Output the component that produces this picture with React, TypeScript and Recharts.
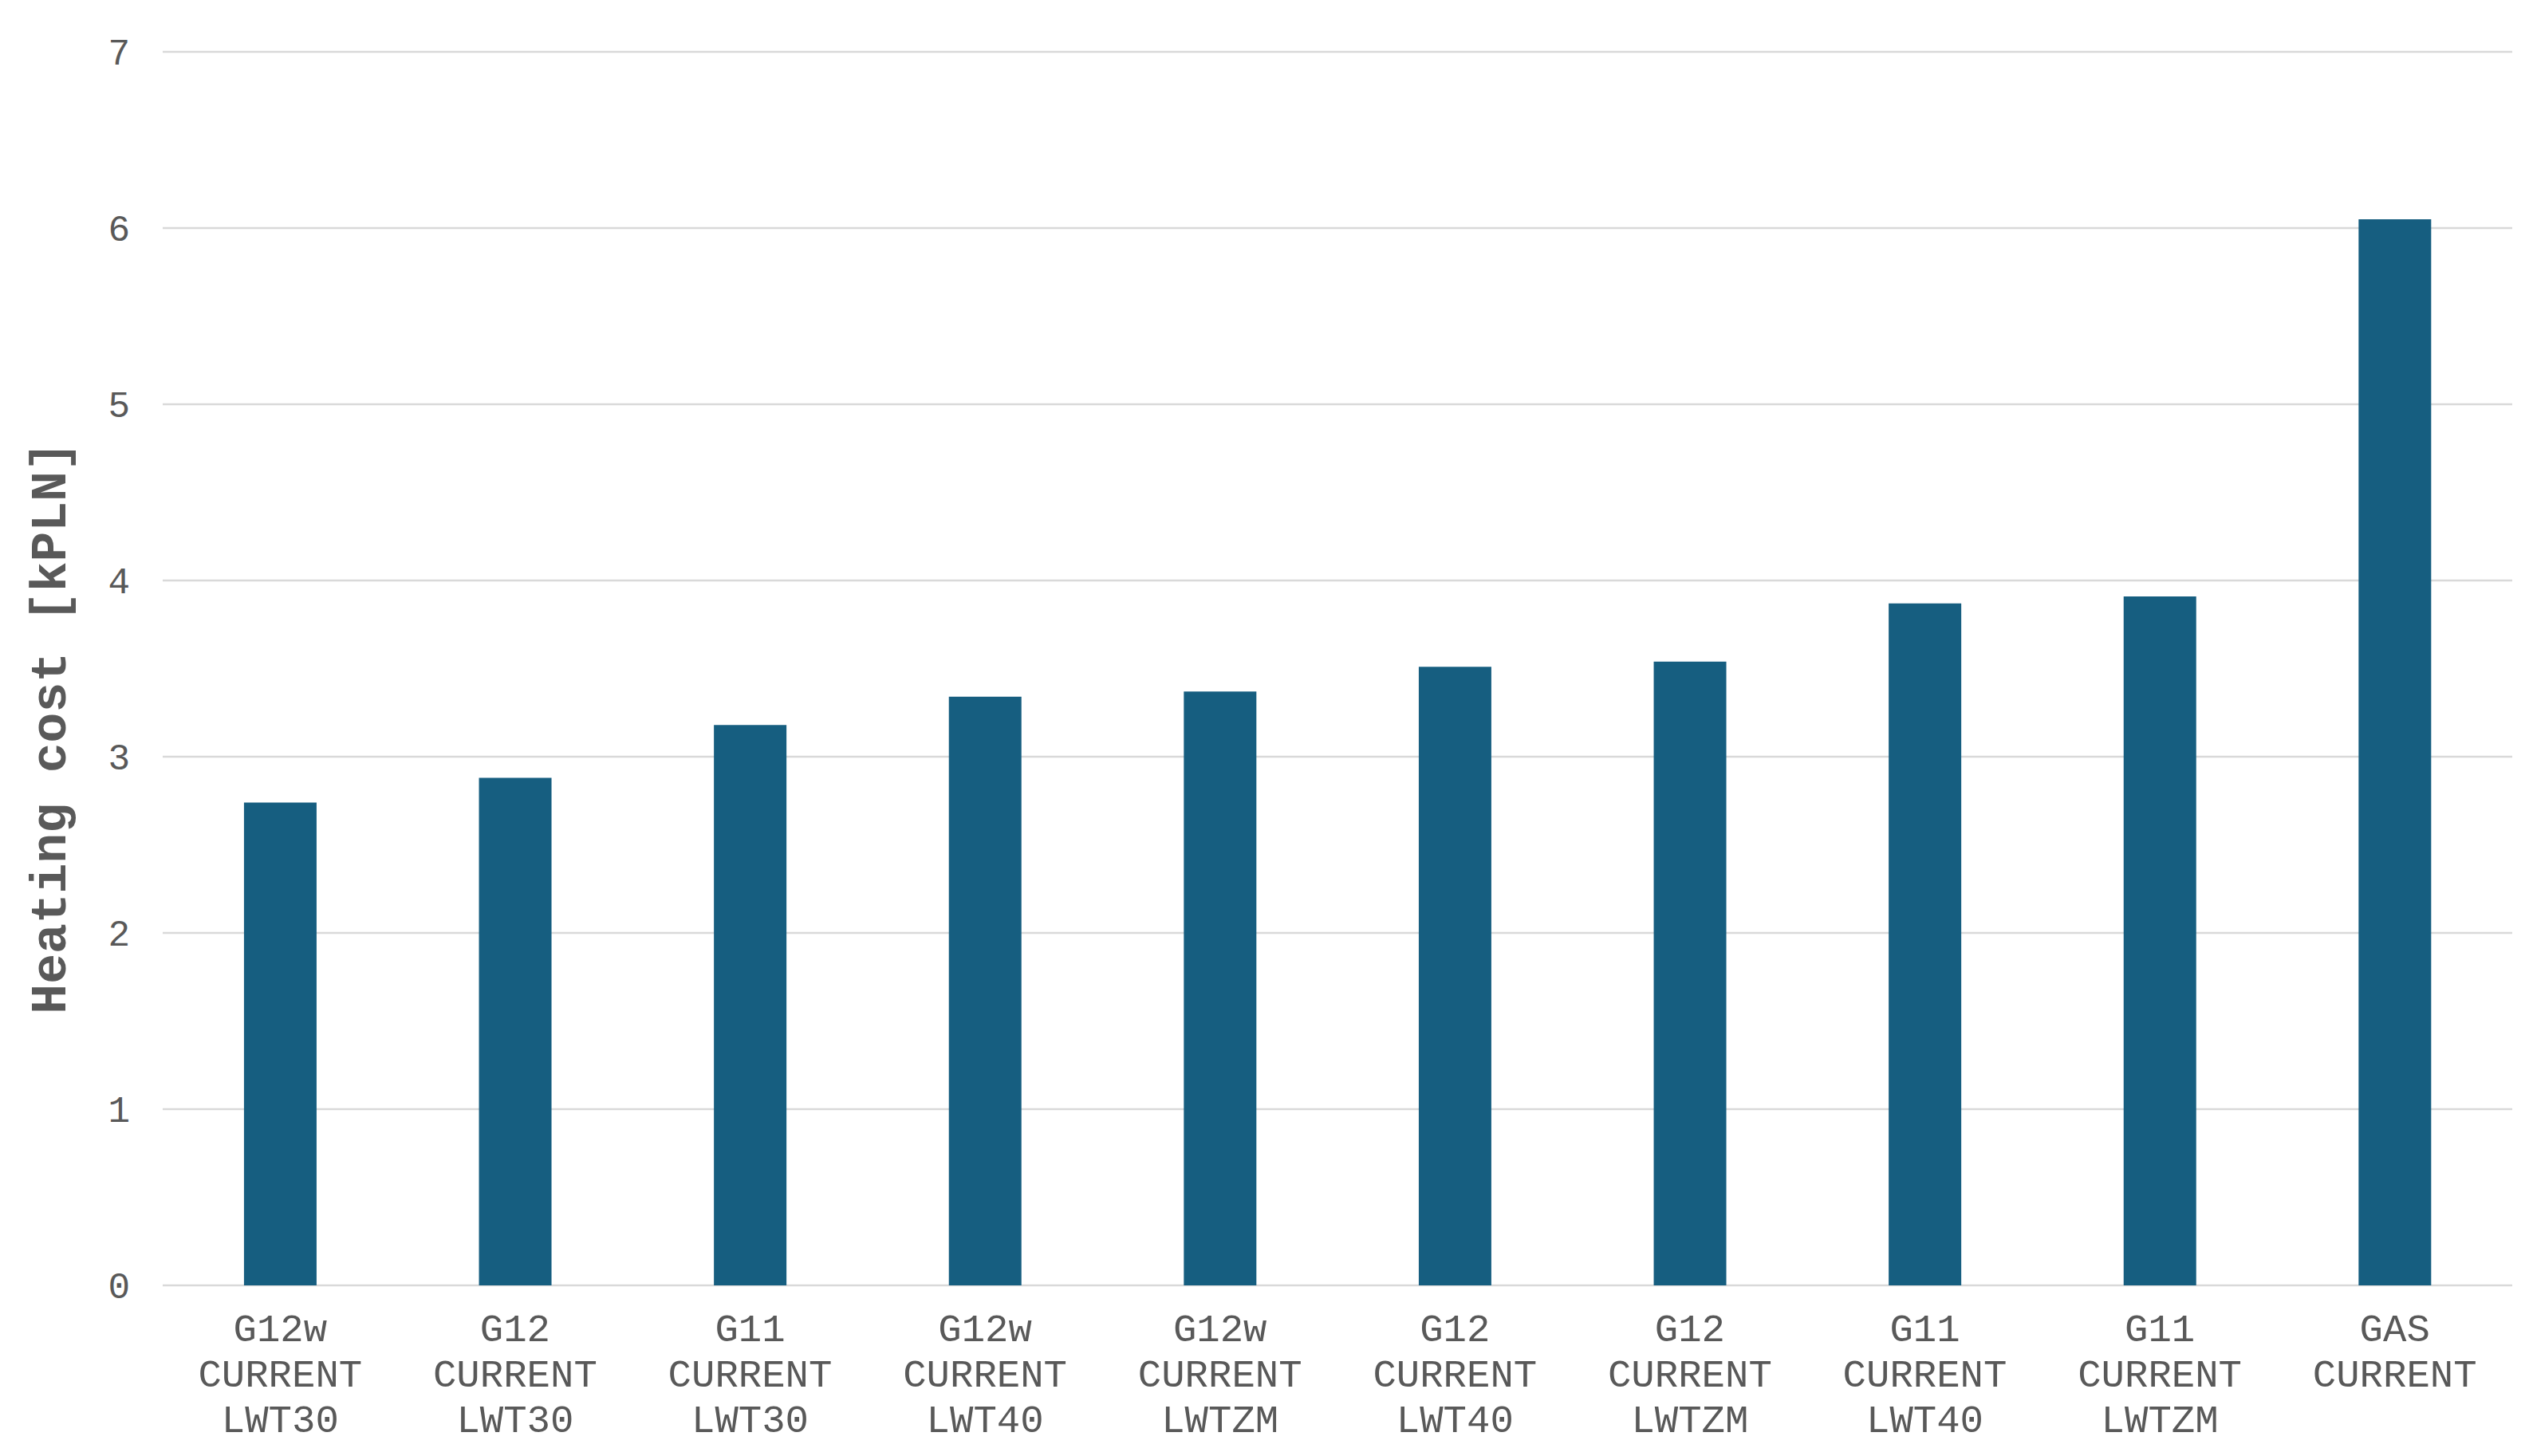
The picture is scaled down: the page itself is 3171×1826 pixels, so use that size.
import {Bar, BarChart, CartesianGrid, Label, XAxis, YAxis} from "recharts";

const categories = [
    "G12w CURRENT LWT30",
    "G12 CURRENT LWT30",
    "G11 CURRENT LWT30",
    "G12w CURRENT LWT40",
    "G12w CURRENT LWTZM",
    "G12 CURRENT LWT40",
    "G12 CURRENT LWTZM",
    "G11 CURRENT LWT40",
    "G11 CURRENT LWTZM",
    "GAS CURRENT",
];

const heatingCost = [2.74, 2.88, 3.18, 3.34, 3.37, 3.51, 3.54, 3.87, 3.91, 6.05];

const yTicks = [0, 1, 2, 3, 4, 5, 6, 7];

const data = categories.map((name, i) => ({name, cost: heatingCost[i]}));

const FONT = "'Liberation Mono', 'Courier New', monospace";
const TEXT_COLOR = "#595959";


function CategoryTick(props: any) {
    const {x, y, payload} = props;
    const lines: string[] = String(payload.value).split(" ");
    return <text x={x} y={y} textAnchor="middle" fill={TEXT_COLOR} fontFamily={FONT} fontSize={49}>
        {lines.map((line, i) => (
            <tspan key={i} x={x} dy={i === 0 ? 62 : 57}>{line}</tspan>
        ))}
    </text>;
}

function AxisTitle(props: any) {
    const {viewBox} = props;
    // excel puts the title a bit below the plot centre
    const cx = 57;
    const cy = viewBox.y + viewBox.height / 2 + 74;
    return <text x={cx} y={cy} transform={`rotate(-90, ${cx}, ${cy})`} textAnchor="middle"
                 dominantBaseline="central" fill={TEXT_COLOR} fontFamily={FONT} fontWeight="bold"
                 fontSize={63}>
        Heating cost [kPLN]
    </text>;
}

export default function App() {
    return <BarChart width={3163} height={1818} data={data}
                     margin={{top: 57, right: 21, bottom: 0, left: 0}}
                     barCategoryGap="34.6%">
        <CartesianGrid vertical={false} stroke="#d9d9d9" strokeWidth={2.5}/>
        <XAxis dataKey="name" height={214} tickLine={false} axisLine={false} interval={0}
               tick={<CategoryTick/>}/>
        <YAxis width={196} domain={[0, 7]} ticks={yTicks} tickLine={false} axisLine={false}
               tickSize={0} tickMargin={41}
               tick={{fill: TEXT_COLOR, fontFamily: FONT, fontSize: 46}}>
            <Label content={<AxisTitle/>}/>
        </YAxis>
        <Bar dataKey="cost" fill="#165e80" isAnimationActive={false}/>
    </BarChart>;
}
